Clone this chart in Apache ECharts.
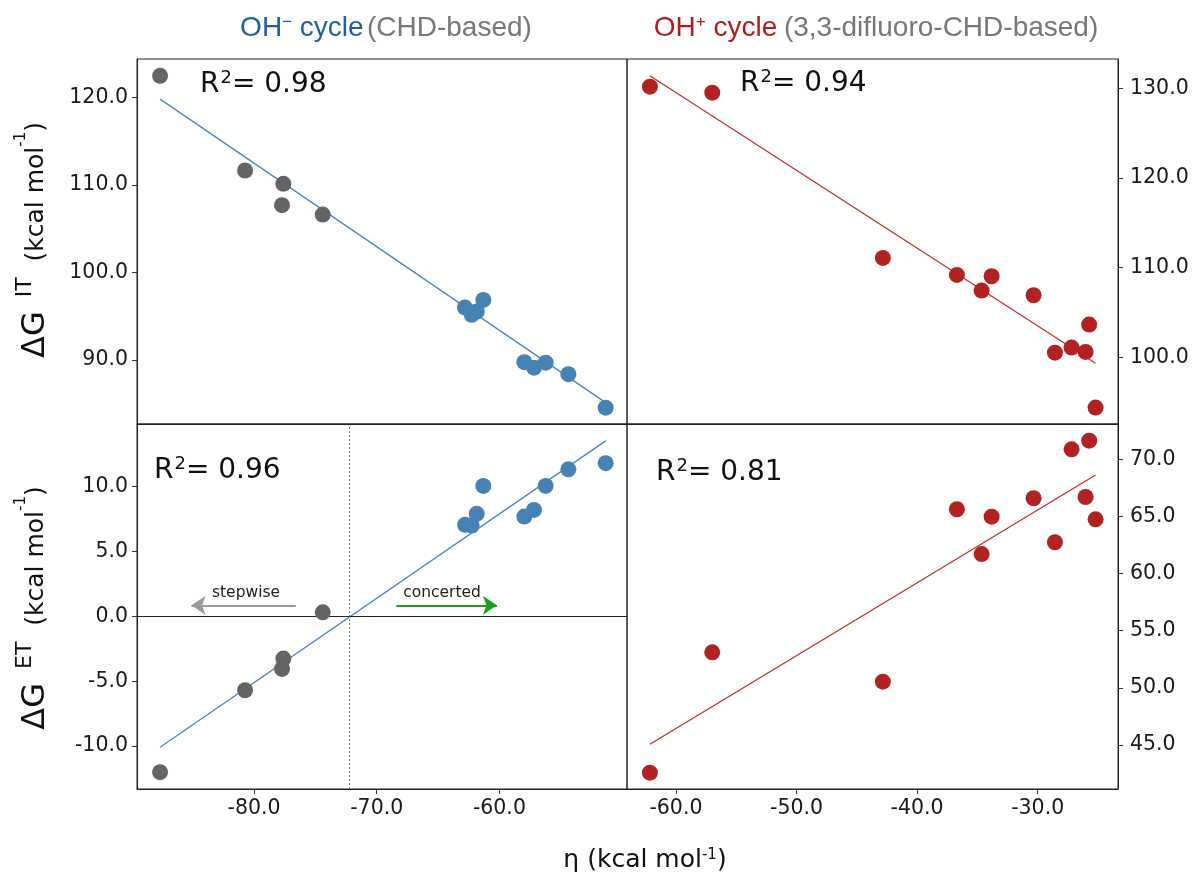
<!DOCTYPE html>
<html><head><meta charset="utf-8">
<script src="https://cdn.jsdelivr.net/npm/echarts@6/dist/echarts.min.js"></script>
<style>html,body{margin:0;padding:0;background:#fff}#c{width:1199px;height:878px}</style>
</head><body><div id="c"></div>
<script>
// ---------------- data ----------------
// OH- cycle (CHD-based): stepwise (grey) and concerted (blue) points
const etaStepwise      = [-87.66, -80.73, -77.61, -77.72, -74.40];
const dGIT_stepwise    = [122.48, 111.66, 110.14, 107.70, 106.63];
const dGET_stepwise    = [-12.00, -5.69, -3.25, -4.05, 0.31];
const etaConcerted     = [-62.80, -62.26, -61.85, -61.31, -57.97, -57.18, -56.23, -54.38, -51.34];
const dGIT_concerted   = [96.00, 95.17, 95.54, 96.88, 89.76, 89.14, 89.71, 88.39, 84.57];
const dGET_concerted   = [7.05, 7.00, 7.90, 10.05, 7.69, 8.20, 10.05, 11.33, 11.80];
// OH+ cycle (3,3-difluoro-CHD-based)
const etaOHp           = [-62.16, -56.99, -42.84, -36.70, -34.65, -33.82, -30.34, -28.57, -27.19, -26.03, -25.73, -25.20];
const dGIT_OHp         = [130.18, 129.51, 111.08, 109.19, 107.44, 109.04, 106.92, 100.52, 101.08, 100.60, 103.65, 94.39];
const dGET_OHp         = [42.58, 53.11, 50.54, 65.63, 61.71, 64.98, 66.59, 62.74, 70.87, 66.70, 71.63, 64.75];
// linear-fit end points
const fitIT_OHm = [[-87.66, 119.82], [-51.34, 85.14]];
const fitET_OHm = [[-87.66, -10.08], [-51.34, 13.52]];
const fitIT_OHp = [[-62.16, 131.40], [-25.20, 99.34]];
const fitET_OHp = [[-62.16, 45.07], [-25.20, 68.63]];
const r2Values = ['0.98', '0.94', '0.96', '0.81'];
// annotations (bottom-left panel)
const crossoverEta = -72.2;
const arrowStepwise  = [[-76.6, 0.85], [-85.1, 0.85]];
const arrowConcerted = [[-68.4, 0.85], [-60.2, 0.85]];
// axis ranges and ticks
const xRangeOHm = [-89.54, -49.6];
const xRangeOHp = [-64.06, -23.34];
const yRangeIT_OHm = [82.7, 124.4];
const yRangeET_OHm = [-13.3, 14.82];
const yRangeIT_OHp = [92.56, 133.27];
const yRangeET_OHp = [41.15, 73.09];
const xTicksOHm = [-80, -70, -60];
const xTicksOHp = [-60, -50, -40, -30];
const yTicksIT_OHm = [90, 100, 110, 120];
const yTicksET_OHm = [-10, -5, 0, 5, 10];
const yTicksIT_OHp = [100, 110, 120, 130];
const yTicksET_OHp = [45, 50, 55, 60, 65, 70];

// ---------------- chart ----------------
const chart = echarts.init(document.getElementById('c'), null, {renderer: 'canvas'});
const FONT = 'DejaVu Sans';
const zip = (a, b) => a.map((v, i) => [v, b[i]]);
const C_GREY = '#646464', C_BLUE = '#4682b4', C_RED = '#b22222';
const C_BLUE_LINE = '#4a86c0', C_RED_LINE = '#c0302d';

const L = 137, M = 627, R = 1118, T = 59, MID = 424, B = 789;
const grids = [
  {left: L, top: T, width: M - L, height: MID - T},
  {left: M, top: T, width: R - M, height: MID - T},
  {left: L, top: MID, width: M - L, height: B - MID},
  {left: M, top: MID, width: R - M, height: B - MID}
].map(g => Object.assign(g, {show: true, borderColor: '#222', borderWidth: 1, backgroundColor: 'transparent', containLabel: false}));

const fmt = v => Number(v).toFixed(1);
function xAx(gi, range, ticks) {
  const show = !!ticks;
  return {
    gridIndex: gi, type: 'value', min: range[0], max: range[1],
    axisLine: {show: true, onZero: false, lineStyle: {color: '#222', width: 1}},
    axisTick: {show: show, customValues: ticks || [], length: 5, lineStyle: {color: '#333', width: 1}},
    axisLabel: {show: show, customValues: ticks || [], formatter: fmt, fontSize: 20.5, color: '#1a1a1a', fontFamily: FONT, margin: 9},
    splitLine: {show: false}
  };
}
function yAx(gi, range, ticks, pos) {
  return {
    gridIndex: gi, type: 'value', min: range[0], max: range[1], position: pos,
    axisLine: {show: true, onZero: false, lineStyle: {color: '#222', width: 1}},
    axisTick: {show: true, customValues: ticks, length: 5, lineStyle: {color: '#333', width: 1}},
    axisLabel: {show: true, customValues: ticks, formatter: fmt, fontSize: 20.5, color: '#1a1a1a', fontFamily: FONT, margin: pos === 'right' ? 12 : 9},
    splitLine: {show: false}
  };
}

function scatter(xi, pts, color) {
  return {type: 'scatter', xAxisIndex: xi, yAxisIndex: xi, data: pts, symbolSize: 16,
    itemStyle: {color: color, opacity: 1}, z: 5, silent: true};
}
function fitLine(xi, pts, color, extra) {
  return Object.assign({type: 'line', xAxisIndex: xi, yAxisIndex: xi, data: pts, showSymbol: false, symbol: 'none',
    lineStyle: {color: color, width: 1.3}, z: 3, silent: true}, extra || {});
}

const supRich = {
  r: {fontSize: 28, fontFamily: FONT, fill: '#111'},
  s: {fontSize: 18, fontFamily: FONT, fill: '#111', verticalAlign: 'top', padding: [0, 0, 14, 1]}
};
function r2Text(x, y, val) {
  return {type: 'text', x: x, y: y, silent: true,
    style: {text: '{r|R}{s|2}{r|= ' + val + '}', rich: supRich, align: 'left', verticalAlign: 'middle'}};
}

const yLabRich = {
  big: {fontSize: 32, fontFamily: FONT, fill: '#111'},
  sup: {fontSize: 22, fontFamily: FONT, fill: '#111', verticalAlign: 'top', padding: [0, 0, 22, 14]},
  gap: {fontSize: 25, fontFamily: FONT},
  unit: {fontSize: 25, fontFamily: FONT, fill: '#111'},
  usup: {fontSize: 15, fontFamily: FONT, fill: '#111', verticalAlign: 'top', padding: [0, 0, 8, 0]}
};
function yLabel(y, sup) {
  return {type: 'text', x: 36, y: y, rotation: Math.PI / 2, silent: true,
    style: {text: '{big|ΔG}{sup|' + sup + '}{gap|  }{unit|(kcal mol}{usup|-1}{unit|)}', rich: yLabRich, align: 'center', verticalAlign: 'middle'}};
}

const titleRich = {
  b: {fontSize: 28, fontFamily: 'Liberation Sans', fill: '#1f5fa0'},
  bs: {fontSize: 17, fontFamily: 'Liberation Sans', fill: '#1f5fa0', verticalAlign: 'top', padding: [0, 0, 4, 0]},
  rd: {fontSize: 28, fontFamily: 'Liberation Sans', fill: '#b01c1c'},
  rs: {fontSize: 17, fontFamily: 'Liberation Sans', fill: '#b01c1c', verticalAlign: 'top', padding: [0, 0, 4, 0]},
  g: {fontSize: 28, fontFamily: 'Liberation Sans', fill: '#777777'}
};

const option = {
  animation: false,
  backgroundColor: '#ffffff',
  textStyle: {fontFamily: FONT},
  grid: grids,
  xAxis: [xAx(0, xRangeOHm, null), xAx(1, xRangeOHp, null), xAx(2, xRangeOHm, xTicksOHm), xAx(3, xRangeOHp, xTicksOHp)],
  yAxis: [yAx(0, yRangeIT_OHm, yTicksIT_OHm, 'left'), yAx(1, yRangeIT_OHp, yTicksIT_OHp, 'right'),
          yAx(2, yRangeET_OHm, yTicksET_OHm, 'left'), yAx(3, yRangeET_OHp, yTicksET_OHp, 'right')],
  series: [
    fitLine(0, fitIT_OHm, C_BLUE_LINE),
    scatter(0, zip(etaStepwise, dGIT_stepwise), C_GREY),
    scatter(0, zip(etaConcerted, dGIT_concerted), C_BLUE),
    fitLine(1, fitIT_OHp, C_RED_LINE),
    scatter(1, zip(etaOHp, dGIT_OHp), C_RED),
    fitLine(2, fitET_OHm, C_BLUE_LINE, {
      markLine: {
        silent: true, animation: false, symbol: ['none', 'none'], label: {show: false},
        data: [
          {yAxis: 0, lineStyle: {color: '#222', width: 1, type: 'solid'}},
          {xAxis: crossoverEta, lineStyle: {color: '#555', width: 0.8, type: [2, 2]}},
          [{coord: arrowStepwise[0], symbol: 'none'},
           {coord: arrowStepwise[1], symbol: 'arrow', symbolSize: 14, lineStyle: {color: '#999999', width: 2, type: 'solid'}, itemStyle: {color: '#999999'}}],
          [{coord: arrowConcerted[0], symbol: 'none'},
           {coord: arrowConcerted[1], symbol: 'arrow', symbolSize: 14, lineStyle: {color: '#1aa01a', width: 2, type: 'solid'}, itemStyle: {color: '#1aa01a'}}]
        ]
      }
    }),
    scatter(2, zip(etaStepwise, dGET_stepwise), C_GREY),
    scatter(2, zip(etaConcerted, dGET_concerted), C_BLUE),
    fitLine(3, fitET_OHp, C_RED_LINE),
    scatter(3, zip(etaOHp, dGET_OHp), C_RED)
  ],
  graphic: [
    {type: 'text', x: 386, y: 28, silent: true,
     style: {text: '{b|OH}{bs|−}{b| cycle} {g|(CHD-based)}', rich: titleRich, align: 'center', verticalAlign: 'middle'}},
    {type: 'text', x: 876, y: 28, silent: true,
     style: {text: '{rd|OH}{rs|+}{rd| cycle}  {g|(3,3-difluoro-CHD-based)}', rich: titleRich, align: 'center', verticalAlign: 'middle'}},
    r2Text(200, 85, r2Values[0]),
    r2Text(740, 84, r2Values[1]),
    r2Text(154, 471, r2Values[2]),
    r2Text(656, 473, r2Values[3]),
    yLabel(240, 'IT'),
    yLabel(608, 'ET'),
    {type: 'text', x: 645, y: 860, silent: true,
     style: {text: '{u|η (kcal mol}{s|-1}{u|)}', align: 'center', verticalAlign: 'middle',
       rich: {u: {fontSize: 25, fontFamily: FONT, fill: '#111'}, s: {fontSize: 15, fontFamily: FONT, fill: '#111', verticalAlign: 'top', padding: [0, 0, 8, 0]}}}},
    {type: 'text', x: 246, y: 593, silent: true,
     style: {text: 'stepwise', font: '15.5px "DejaVu Sans"', fill: '#222', align: 'center', verticalAlign: 'middle'}},
    {type: 'text', x: 442, y: 593, silent: true,
     style: {text: 'concerted', font: '15.5px "DejaVu Sans"', fill: '#222', align: 'center', verticalAlign: 'middle'}}
  ]
};
chart.setOption(option);
</script>
</body></html>
